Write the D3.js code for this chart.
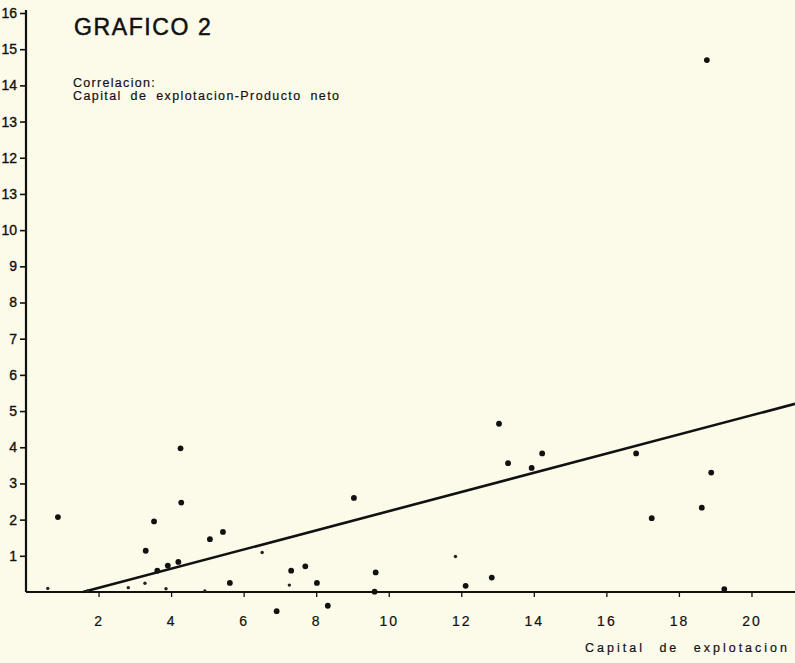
<!DOCTYPE html>
<html><head><meta charset="utf-8">
<script src="https://cdn.jsdelivr.net/npm/d3@7"></script>
<style>
html,body{margin:0;padding:0;background:#fcfae9;}
svg{display:block;}
text{font-family:"Liberation Sans",Arial,sans-serif;fill:#111;stroke:#111;stroke-width:0.2px;}
</style></head>
<body>
<svg id="c" width="795" height="663"></svg>
<script>
// ---- data ----
const yTickValues = [1,2,3,4,5,6,7,8,9,10,11,12,13,14,15,16];
const yTickLabels = ["1","2","3","4","5","6","7","8","9","10","13","12","13","14","15","16"];
const xTickValues = [2,4,6,8,10,12,14,16,18,20];
const xTickLabels = ["2","4","6","8","10","12","14","16","18","20"];
// main dots: capital de explotacion (x) vs producto neto (y)
const capital = [0.88,4.26,4.28,3.53,3.30,5.07,5.43,7.31,5.62,6.91,4.20,3.91,3.62,13.04,13.29,13.94,9.04,7.70,8.02,8.32,9.64,9.61,12.12,12.84,14.23,16.82,17.25,18.63,18.89,19.25,18.77];
const producto = [2.07,3.97,2.47,1.95,1.14,1.46,1.66,0.59,0.25,-0.53,0.83,0.73,0.59,4.65,3.56,3.43,2.60,0.71,0.25,-0.38,0.54,0.01,0.17,0.40,3.83,3.83,2.04,2.33,3.30,0.08,14.7];
// faint / small marks
const capitalSmall = [0.60,6.51,7.26,3.86,3.28,2.82,4.93,11.84,1.70];
const productoSmall = [0.10,1.09,0.19,0.09,0.24,0.12,0.03,0.98,0.03];
// regression line end points
const regX = [1.57, 21.2];
const regY = [0.0, 5.2];

const title = "GRAFICO 2";
const subtitle1 = "Correlacion:";
const subtitle2 = "Capital de explotacion-Producto neto";
const xLabel = "Capital de explotacion";

// ---- drawing ----
const svg = d3.select("#c");
const x = d3.scaleLinear().domain([0, 21.2]).range([26, 795]);
const y = d3.scaleLinear().domain([0, 16]).range([592, 13]);

// y axis
const yAxis = d3.axisLeft(y).tickValues(yTickValues)
  .tickFormat((d,i)=>yTickLabels[i]).tickSize(6).tickPadding(3);
const gy = svg.append("g").attr("transform","translate(26,0)").call(yAxis);
gy.select(".domain").remove();
gy.append("line").attr("x1",0).attr("x2",0).attr("y1",10).attr("y2",y(0))
  .attr("stroke","#111").attr("stroke-width",2.2);
gy.selectAll(".tick line").attr("stroke","#111").attr("stroke-width",1.6);
gy.selectAll(".tick text").style("font-size","14px").attr("fill","#111")
  .style("stroke-width","0.35px")
  .style("font-family","'Liberation Sans',Arial,sans-serif");

// x axis
const xAxis = d3.axisBottom(x).tickValues(xTickValues)
  .tickFormat((d,i)=>xTickLabels[i]).tickSize(5).tickPadding(19);
const gx = svg.append("g").attr("transform",`translate(0,${y(0)})`).call(xAxis);
gx.select(".domain").remove();
gx.append("line").attr("x1",x(0)).attr("x2",795).attr("y1",0).attr("y2",0)
  .attr("stroke","#111").attr("stroke-width",2.2);
gx.selectAll(".tick line").attr("stroke","#111").attr("stroke-width",1.3);
gx.selectAll(".tick text").style("font-size","14px").attr("fill","#111")
  .style("letter-spacing","2px")
  .style("font-family","'Liberation Sans',Arial,sans-serif");

// regression line
svg.append("path")
  .datum(regX.map((v,i)=>[v, regY[i]]))
  .attr("d", d3.line().x(d=>x(d[0])).y(d=>y(d[1])))
  .attr("fill","none").attr("stroke","#111").attr("stroke-width",2.6);

// points
svg.append("g").selectAll("circle")
  .data(capital.map((v,i)=>[v, producto[i]]))
  .join("circle")
  .attr("cx",d=>x(d[0])).attr("cy",d=>y(d[1])).attr("r",2.9).attr("fill","#111");
svg.append("g").selectAll("circle")
  .data(capitalSmall.map((v,i)=>[v, productoSmall[i]]))
  .join("circle")
  .attr("cx",d=>x(d[0])).attr("cy",d=>y(d[1])).attr("r",1.7).attr("fill","#222");

// texts
svg.append("text").attr("x",74).attr("y",35).text(title)
  .style("font-size","23px").style("letter-spacing","1.6px").style("stroke-width","0.5px");
svg.append("text").attr("x",73).attr("y",87).text(subtitle1)
  .style("font-size","12.5px").style("letter-spacing","1.3px");
svg.append("text").attr("x",73).attr("y",100).text(subtitle2)
  .style("font-size","12.5px").style("letter-spacing","1.4px").style("word-spacing","4px");
svg.append("text").attr("x",790).attr("y",652).attr("text-anchor","end").text(xLabel)
  .style("font-size","12.5px").style("letter-spacing","3px").style("word-spacing","8px");
</script>
</body></html>
